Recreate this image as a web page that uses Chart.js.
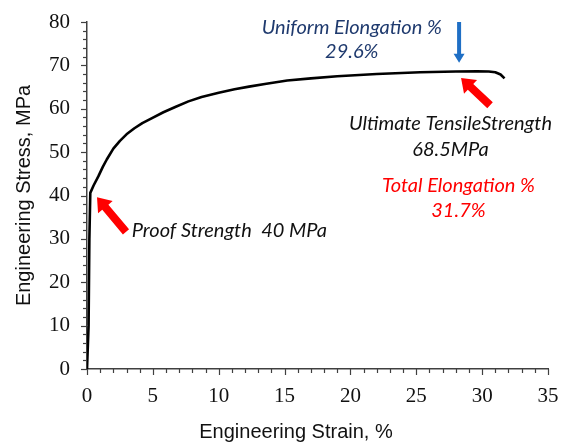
<!DOCTYPE html>
<html>
<head>
<meta charset="utf-8">
<script src="https://cdn.jsdelivr.net/npm/chart.js@4/dist/chart.umd.min.js"></script>
<style>
  html, body { margin: 0; padding: 0; background: #fff; }
  #wrap { width: 564px; height: 445px; position: relative; }
</style>
</head>
<body>
<div id="wrap"><canvas id="chart"></canvas></div>
<script>
// stress-strain curve
const strain = [0, 0.12, 0.18, 0.25, 0.5, 0.86, 1.2, 1.5, 2.0, 2.5, 3.0, 3.6, 4.2, 4.9, 5.8, 6.7, 7.7, 8.7, 10, 11.2, 12.3, 13.5, 15.2, 17, 19, 22, 25.3, 28, 29.6, 30.5, 31.0, 31.4, 31.7];
const stress = [0, 10, 30, 40.6, 42.3, 44.4, 46.6, 48.3, 50.8, 52.6, 54.1, 55.5, 56.7, 57.8, 59.2, 60.4, 61.7, 62.7, 63.7, 64.5, 65.1, 65.7, 66.5, 67.0, 67.5, 68.0, 68.4, 68.6, 68.65, 68.6, 68.4, 67.9, 67.0];

const xTitle = 'Engineering Strain, %';
const yTitle = 'Engineering Stress, MPa';

// annotation text, anchored in data units [strain, stress]
const notes = [
  { lines: ['Uniform Elongation %', '29.6%'], at: [20.1, 78.8], gap: 5.5, color: '#1f3a6e', align: 'center' },
  { lines: ['Ultimate TensileStrength', '68.5MPa'], at: [27.6, 56.5], gap: 6.0, color: '#111', align: 'center' },
  { lines: ['Total Elongation %', '31.7%'], at: [28.2, 42.4], gap: 5.8, color: '#ff0000', align: 'center' },
  { lines: ['Proof Strength  40 MPa'], at: [3.4, 32.0], gap: 0, color: '#111', align: 'left' }
];

// arrows: from [strain, stress] to [strain, stress]
const arrows = [
  { from: [28.25, 80], to: [28.25, 70.6], color: '#1f6fc5', shaft: 4, head: 11, headLen: 9 },
  { from: [30.6, 60.8], to: [28.4, 67.1], color: '#ff0000', shaft: 8, head: 19, headLen: 13 },
  { from: [2.96, 31.6], to: [0.76, 39.6], color: '#ff0000', shaft: 8, head: 19, headLen: 13 }
];

function drawArrow(ctx, x1, y1, x2, y2, a) {
  const ang = Math.atan2(y2 - y1, x2 - x1);
  const len = Math.hypot(x2 - x1, y2 - y1);
  ctx.save();
  ctx.translate(x1, y1);
  ctx.rotate(ang);
  ctx.fillStyle = a.color;
  ctx.beginPath();
  ctx.moveTo(0, -a.shaft / 2);
  ctx.lineTo(len - a.headLen, -a.shaft / 2);
  ctx.lineTo(len - a.headLen, -a.head / 2);
  ctx.lineTo(len, 0);
  ctx.lineTo(len - a.headLen, a.head / 2);
  ctx.lineTo(len - a.headLen, a.shaft / 2);
  ctx.lineTo(0, a.shaft / 2);
  ctx.closePath();
  ctx.fill();
  ctx.restore();
}

const extras = {
  id: 'extras',
  afterDraw(chart) {
    const ctx = chart.ctx;
    const xs = chart.scales.x, ys = chart.scales.y;
    const area = chart.chartArea;

    // minor + major tick marks
    ctx.save();
    ctx.strokeStyle = '#404040';
    ctx.lineWidth = 1.2;
    for (let v = 0; v <= 35; v += 1) {
      const px = Math.round(xs.getPixelForValue(v)) + 0.5;
      const l = v % 5 === 0 ? 6 : 4;
      ctx.beginPath();
      ctx.moveTo(px, area.bottom);
      ctx.lineTo(px, area.bottom + l);
      ctx.stroke();
    }
    for (let v = 0; v <= 80; v += 2) {
      const py = Math.round(ys.getPixelForValue(v)) + 0.5;
      const l = v % 10 === 0 ? 6 : 4;
      ctx.beginPath();
      ctx.moveTo(area.left, py);
      ctx.lineTo(area.left - l, py);
      ctx.stroke();
    }
    ctx.restore();

    // axis titles
    ctx.save();
    ctx.fillStyle = '#111';
    ctx.font = '20px "Liberation Sans", Arial, sans-serif';
    ctx.textAlign = 'center';
    ctx.textBaseline = 'middle';
    ctx.fillText(xTitle, 296, 432);
    ctx.translate(24, (area.top + area.bottom) / 2);
    ctx.rotate(-Math.PI / 2);
    ctx.fillText(yTitle, 0, 0);
    ctx.restore();

    // arrows
    arrows.forEach(a => {
      drawArrow(ctx,
        xs.getPixelForValue(a.from[0]), ys.getPixelForValue(a.from[1]),
        xs.getPixelForValue(a.to[0]), ys.getPixelForValue(a.to[1]), a);
    });

    // notes
    ctx.save();
    ctx.font = 'italic 20px Lato, "Open Sans", sans-serif';
    ctx.textBaseline = 'middle';
    notes.forEach(n => {
      ctx.fillStyle = n.color;
      ctx.textAlign = n.align;
      n.lines.forEach((t, i) => {
        ctx.fillText(t, xs.getPixelForValue(n.at[0]), ys.getPixelForValue(n.at[1] - i * n.gap));
      });
    });
    ctx.restore();
  }
};

new Chart(document.getElementById('chart'), {
  type: 'scatter',
  data: {
    datasets: [{
      data: strain.map((s, i) => ({ x: s, y: stress[i] })),
      showLine: true,
      borderColor: '#000',
      borderWidth: 2.6,
      borderJoinStyle: 'round',
      pointRadius: 0,
      tension: 0,
      fill: false
    }]
  },
  options: {
    responsive: true,
    maintainAspectRatio: false,
    animation: false,
    layout: { padding: { top: 22, right: 16, left: 0, bottom: 0 } },
    plugins: { legend: { display: false }, tooltip: { enabled: false } },
    scales: {
      x: {
        type: 'linear',
        min: 0, max: 35,
        afterFit(scale) {
          scale.height = 76;
          scale.paddingLeft = 0;
          scale.paddingRight = 0;
        },
        border: { display: true, color: '#404040', width: 1.5 },
        grid: { display: false, drawTicks: false },
        ticks: {
          stepSize: 5,
          padding: 15,
          color: '#111',
          maxRotation: 0,
          font: { family: '"Liberation Serif", "Times New Roman", serif', size: 21 }
        }
      },
      y: {
        type: 'linear',
        min: 0, max: 80,
        afterFit(scale) {
          scale.width = 87;
          scale.paddingTop = 0;
          scale.paddingBottom = 0;
        },
        border: { display: true, color: '#404040', width: 1.5 },
        grid: { display: false, drawTicks: false },
        ticks: {
          stepSize: 10,
          padding: 17,
          color: '#111',
          font: { family: '"Liberation Serif", "Times New Roman", serif', size: 21 }
        }
      }
    }
  },
  plugins: [extras]
});
</script>
</body>
</html>
